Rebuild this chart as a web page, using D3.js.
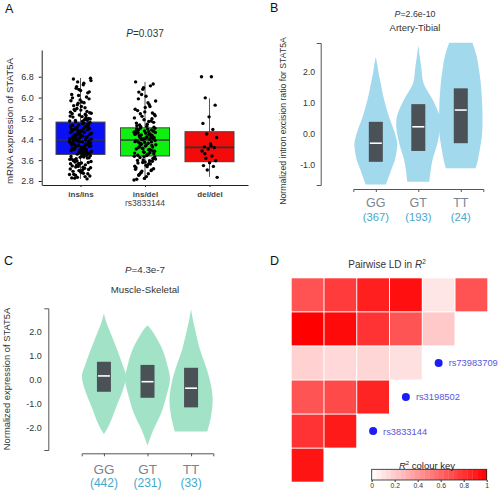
<!DOCTYPE html>
<html><head><meta charset="utf-8">
<script src="https://cdn.jsdelivr.net/npm/d3@7"></script>
<style>body{margin:0;background:#fff}svg{display:block}text{font-family:"Liberation Sans",Arial,sans-serif}</style>
</head><body><svg id="c" width="500" height="494"></svg>
<script>
// ---------------- DATA ----------------
// Panel A
const genotypesA = ["ins/ins", "ins/del", "del/del"];
const exprInsIns = [3.05,3.33,2.91,3.51,3.19,3.64,2.97,3.41,3.77,3.12,3.58,2.88,3.47,3.26,3.72,3.02,3.69,3.15,3.38,3.8,2.94,3.55,3.22,3.61,3.08,3.44,3.74,3.29,3.66,2.99,3.49,3.17,3.79,3.36,3.63,3.1,3.53,3.24,3.71,2.92,3.42,3.57,3.31,3.76,3.06,3.68,3.2,3.46,3.81,3.34,
4.12,3.88,4.27,4.02,4.33,3.93,4.09,4.21,3.84,4.31,3.97,4.15,4.36,3.9,4.05,4.24,3.86,4.18,4.29,3.99,4.11,4.34,3.95,4.07,4.22,3.83,4.14,4.3,4.01,4.19,3.91,4.26,4.04,4.35,3.87,4.1,4.23,3.96,4.16,4.32,3.89,4.06,4.28,4.0,4.2,3.94,4.13,4.25,3.85,4.37,
4.48,4.95,4.66,5.02,4.83,4.57,4.74,4.45,4.89,4.61,4.4,4.52,4.78,4.99,4.69,4.43,4.86,4.55,5.05,4.72,4.5,4.92,4.64,4.41,4.8,4.58,4.97,4.47,4.7,4.38,4.85,4.6,5.0,4.53,4.76,4.44,4.9,4.67,4.42,4.81,4.56,4.94,4.49,4.73,4.63,5.04,4.46,4.87,4.59,4.79,
5.61,6.42,5.18,5.83,6.71,5.47,6.08,5.29,6.55,5.12,5.95,6.27,5.38,5.22,5.72,6.65,5.09,5.54,6.18,5.33,5.88,5.15,6.36,5.42,5.66,5.25,6.02,5.78,5.1,6.49,5.5,5.2,5.91,6.12,5.36,5.58,6.74,5.27,5.69,5.13,6.31,5.44,5.8,5.07,6.22,5.52,5.99,5.31,6.6,5.4];
const exprInsDel = [2.84,3.42,3.05,3.66,2.9,3.31,3.58,3.13,3.72,2.97,3.49,3.22,3.61,3.37,3.08,3.7,3.27,3.53,2.87,3.45,3.18,3.64,3.35,3.02,3.56,3.74,3.25,3.47,3.11,3.68,3.4,3.59,3.2,3.51,3.75,
3.81,4.12,3.95,4.28,4.03,3.88,4.21,4.35,3.78,4.08,4.16,3.92,4.31,4.0,4.24,3.85,4.14,4.33,3.98,4.06,4.19,3.83,4.27,4.1,3.9,4.36,4.01,4.22,3.94,4.17,3.79,4.3,4.05,3.87,4.25,
4.52,4.71,4.43,4.8,4.6,4.39,4.66,4.48,4.77,4.55,4.41,4.69,4.58,4.83,4.46,4.63,4.74,4.5,4.38,4.67,4.79,4.54,4.44,4.72,4.61,4.4,4.57,4.82,4.49,4.65,4.76,4.42,4.59,4.7,4.47,
5.05,5.62,4.92,6.45,5.28,5.87,4.98,6.21,5.41,5.15,6.6,5.73,4.88,5.35,6.05,5.5,5.1,6.32,5.22,5.8,4.95,6.52,5.45,5.02,5.66,6.12,5.3,4.9,5.95,5.19,6.38,5.55,5.08,5.38,4.86];
const exprDelDel = [6.8,6.8,5.99,5.71,5.26,5.01,4.78,4.6,4.47,4.22,4.11,4.08,4.03,3.95,3.76,3.67,3.58,3.5,3.39,3.36,3.22,2.94,4.15,3.85];
const boxQ1A = [3.82, 3.76, 3.54];
const boxMedA = [4.37, 4.37, 4.09];
const boxQ3A = [5.06, 4.84, 4.69];
const whiskLoA = [2.88, 2.84, 2.96];
const whiskHiA = [6.75, 6.6, 5.97];
const ticksA = [2.8, 3.6, 4.4, 5.2, 6.0, 6.8];

// Panels B and C
const genotypesBC = ["GG", "GT", "TT"];
const countsB = [367, 193, 24];
const countsC = [442, 231, 33];
const ticksB = [-1, 0, 1, 2];
const ticksC = [-2, -1, 0, 1, 2];
const q1B = [-0.92, -0.57, -0.32], medB = [-0.32, 0.21, 0.75], q3B = [0.37, 0.94, 1.45];
const q1C = [-0.52, -0.77, -1.17], medC = [0.14, -0.10, -0.37], q3C = [0.73, 0.60, 0.48];
// violin outlines: [value, relative density]
const violinB_GG = [[2.47,0],[2.2,0.07],[2.0,0.11],[1.6,0.22],[1.08,0.37],[0.5,0.6],[0.0,0.85],[-0.32,0.95],[-0.55,0.93],[-0.86,0.85],[-1.07,0.74],[-1.35,0.6],[-1.65,0.45]];
const violinB_GT = [[2.83,0],[2.5,0.06],[2.15,0.13],[1.6,0.24],[1.08,0.64],[0.54,0.95],[0.2,0.98],[-0.32,0.85],[-0.86,0.63],[-1.2,0.55],[-1.56,0.49]];
const violinB_TT = [[2.92,0.52],[2.5,0.7],[2.15,0.79],[1.6,0.89],[0.75,0.96],[0.0,0.95],[-0.55,0.84],[-0.86,0.76],[-1.13,0.66]];
const violinC_GG = [[2.75,0],[2.4,0.1],[1.92,0.3],[1.25,0.58],[0.55,0.85],[0.14,0.98],[-0.43,0.85],[-1.12,0.56],[-1.82,0.27],[-2.1,0.12],[-2.28,0]];
const violinC_GT = [[2.22,0.04],[2.0,0.22],[1.78,0.36],[1.23,0.67],[0.55,0.89],[0.0,1.0],[-0.7,0.84],[-1.38,0.62],[-2.08,0.27],[-2.5,0.1],[-2.76,0]];
const violinC_TT = [[2.92,0],[2.5,0.08],[2.2,0.15],[1.23,0.4],[0.55,0.65],[-0.14,0.86],[-0.83,0.96],[-1.53,0.89],[-1.9,0.8],[-2.18,0.72]];

// Panel D
const ldRows = [
  [0.68, 0.77, 0.88, 0.94, 0.10, 0.68],
  [1.00, 0.96, 0.80, 0.67, 0.21],
  [0.18, 0.15, 0.16, 0.12],
  [0.67, 0.71, 0.86],
  [0.80, 0.90],
  [0.92]
];
const snpNames = ["", "", "rs73983709", "rs3198502", "rs3833144", ""];
const keyTicks = [0, 0.2, 0.4, 0.6, 0.8, 1];

// ---------------- DRAW ----------------
const svg = d3.select("#c");
const fmt1 = d => d.toFixed(1);
const txt = "#333";

function letter(x, y, s) {
  svg.append("text").attr("x", x).attr("y", y).attr("font-size", 12.5).attr("fill", "#111").text(s);
}
function pTitle(g, x, y, size, val) {
  const t = g.append("text").attr("x", x).attr("y", y).attr("text-anchor", "middle").attr("font-size", size).attr("fill", txt);
  t.append("tspan").attr("font-style", "italic").text("P");
  t.append("tspan").text("=" + val);
}

// ===== Panel A =====
letter(5, 13, "A");
const gA = svg.append("g");
const yA = d3.scaleLinear().domain([2.647, 7.824]).range([185, 50]);
const xA = d3.scalePoint().domain(genotypesA).range([42, 248]).padding(0.597);
pTitle(gA, 145, 37, 10, "0.037");

const axYA = gA.append("g").attr("transform", "translate(41.7,0)")
  .call(d3.axisLeft(yA).tickValues(ticksA).tickFormat(fmt1).tickSize(3).tickSizeOuter(0).tickPadding(5));
axYA.selectAll("text").attr("font-size", 9).attr("fill", txt).style("font-family", "Liberation Sans, Arial, sans-serif");
axYA.selectAll("line,path").attr("stroke", "#222");
const axXA = gA.append("g").attr("transform", "translate(0,185)")
  .call(d3.axisBottom(xA).tickSize(2).tickSizeOuter(0).tickPadding(4));
axXA.selectAll("text").attr("font-size", 8).attr("font-weight", "bold").attr("fill", "#444").style("font-family", "Liberation Sans, Arial, sans-serif");
axXA.selectAll("line,path").attr("stroke", "#222");
gA.append("text").attr("x", 145).attr("y", 205.5).attr("text-anchor", "middle").attr("font-size", 8.5).attr("fill", "#444").text("rs3833144");
gA.append("text").attr("transform", "translate(13,121) rotate(-90)").attr("text-anchor", "middle")
  .attr("font-size", 9.7).attr("fill", txt).text("mRNA expression of STAT5A");

const boxColorsA = ["#0a10f5", "#10f010", "#f50a0a"];
const exprA = [exprInsIns, exprInsDel, exprDelDel];
const boxW = 49;
genotypesA.forEach((g, i) => {
  const cx = xA(g);
  gA.append("line").attr("x1", cx).attr("x2", cx).attr("y1", yA(whiskLoA[i])).attr("y2", yA(whiskHiA[i]))
    .attr("stroke", "#555").attr("stroke-width", 1);
  gA.append("rect").attr("x", cx - boxW / 2).attr("width", boxW)
    .attr("y", yA(boxQ3A[i])).attr("height", yA(boxQ1A[i]) - yA(boxQ3A[i]))
    .attr("fill", boxColorsA[i]).attr("stroke", "#444").attr("stroke-width", 1);
  gA.append("line").attr("x1", cx - boxW / 2).attr("x2", cx + boxW / 2).attr("y1", yA(boxMedA[i])).attr("y2", yA(boxMedA[i]))
    .attr("stroke", "#333").attr("stroke-width", 1.6);
});
genotypesA.forEach((g, i) => {
  const cx = xA(g);
  const jw = i === 2 ? 8 : 11;
  gA.append("g").selectAll("circle").data(exprA[i]).join("circle")
    .attr("cx", (d, k) => cx + (((k * 0.6180339887) % 1) - 0.5) * 2 * jw)
    .attr("cy", d => yA(d)).attr("r", 1.7).attr("fill", "#000");
});

// ===== Panels B & C =====
function violinPanel(o) {
  const g = svg.append("g");
  const y = d3.scaleLinear().domain(o.ydom).range(o.yrange);
  const x = d3.scalePoint().domain(genotypesBC).range(o.xrange).padding(o.pad);
  const w = d3.scaleLinear().domain([0, 1]).range([0, 22.5]);
  pTitle(g, o.tx, o.ty1, o.ts, o.p);
  g.append("text").attr("x", o.tx).attr("y", o.ty2).attr("text-anchor", "middle").attr("font-size", o.ts2).attr("fill", txt).text(o.tissue);
  const ay = g.append("g").attr("transform", `translate(${o.ax},0)`)
    .call(d3.axisLeft(y).tickValues(o.ticks).tickFormat(fmt1).tickSizeInner(0).tickSizeOuter(4).tickPadding(o.tpad));
  ay.selectAll("text").attr("font-size", o.tfs).attr("fill", txt).style("font-family", "Liberation Sans, Arial, sans-serif");
  ay.selectAll("path").attr("stroke", "#555");
  const ax = g.append("g").attr("transform", `translate(0,${o.axy})`)
    .call(d3.axisBottom(x).tickSize(3).tickSizeOuter(3).tickFormat(""));
  ax.selectAll("line,path").attr("stroke", "#555");
  const area = d3.area().curve(d3.curveCatmullRom.alpha(0.5));
  genotypesBC.forEach((gt, i) => {
    const cx = x(gt);
    area.y(d => y(d[0])).x0(d => cx - w(d[1])).x1(d => cx + w(d[1]));
    g.append("path").datum(o.violins[i]).attr("d", area).attr("fill", o.fill);
    g.append("rect").attr("x", cx - 7).attr("width", 14).attr("y", y(o.q3[i])).attr("height", y(o.q1[i]) - y(o.q3[i])).attr("fill", "#4a5157");
    g.append("line").attr("x1", cx - 6).attr("x2", cx + 6).attr("y1", y(o.med[i])).attr("y2", y(o.med[i])).attr("stroke", "#fff").attr("stroke-width", 1.6);
    g.append("text").attr("x", cx).attr("y", o.ly1).attr("text-anchor", "middle").attr("font-size", o.lfs).attr("fill", "#7b8390").text(gt);
    g.append("text").attr("x", cx).attr("y", o.ly2).attr("text-anchor", "middle").attr("font-size", o.cfs).attr("fill", "#45a8cc").text("(" + o.counts[i] + ")");
  });
  g.append("text").attr("transform", `translate(${o.ylx},${o.yly}) rotate(-90)`).attr("text-anchor", "middle")
    .attr("font-size", o.ylfs).attr("fill", txt).text(o.ylabel);
}

letter(270, 12, "B");
violinPanel({
  ydom: [-1.668, 2.913], yrange: [185, 43], xrange: [353.3, 483.3], pad: 0.53,
  tx: 415, ty1: 16.5, ty2: 31, ts: 8.8, ts2: 9.5, p: "2.6e-10", tissue: "Artery-Tibial",
  ax: 320.7, ticks: ticksB, tpad: 5.5, tfs: 8.7, axy: 189,
  violins: [violinB_GG, violinB_GT, violinB_TT], fill: "#a3d9ec",
  q1: q1B, med: medB, q3: q3B, counts: countsB,
  ly1: 206.7, ly2: 220.5, lfs: 12.5, cfs: 11.2,
  ylx: 286, yly: 121, ylfs: 8.7, ylabel: "Normalized intron excision ratio for STAT5A"
});

letter(4, 265, "C");
violinPanel({
  ydom: [-2.946, 2.958], yrange: [450, 308.3], xrange: [81.7, 213.3], pad: 0.51,
  tx: 145, ty1: 273, ty2: 293, ts: 9.8, ts2: 9.7, p: "4.3e-7", tissue: "Muscle-Skeletal",
  ax: 48.3, ticks: ticksC, tpad: 6.5, tfs: 9, axy: 453.3,
  violins: [violinC_GG, violinC_GT, violinC_TT], fill: "#a2e3c8",
  q1: q1C, med: medC, q3: q3C, counts: countsC,
  ly1: 474, ly2: 486.5, lfs: 13.5, cfs: 12,
  ylx: 10, yly: 379, ylfs: 9.4, ylabel: "Normalized expression of STAT5A"
});

// ===== Panel D =====
letter(270, 265, "D");
const gD = svg.append("g");
{
  const t = gD.append("text").attr("x", 387).attr("y", 268).attr("text-anchor", "middle").attr("font-size", 10).attr("fill", txt);
  t.append("tspan").text("Pairwise LD in ");
  t.append("tspan").attr("font-style", "italic").text("R");
  t.append("tspan").attr("font-size", 6.5).attr("dy", -4).text("2");
}
const nD = ldRows.length;
const colX = d3.scaleBand().domain(d3.range(nD)).range([291.7, 487.3]).paddingInner(0.03);
const rowY = d3.scaleBand().domain(d3.range(nD)).range([278.3, 481.7]).paddingInner(0.03);
const ldColor = d3.scaleLinear().domain([0, 1]).range(["#ffffff", "#ff0000"]);
ldRows.forEach((row, r) => {
  gD.append("g").selectAll("rect").data(row).join("rect")
    .attr("x", (d, c) => colX(c)).attr("y", rowY(r))
    .attr("width", colX.bandwidth()).attr("height", rowY.bandwidth())
    .attr("fill", d => ldColor(d));
});
const defs = svg.append("defs");
defs.append("filter").attr("id", "blur").append("feGaussianBlur").attr("stdDeviation", 0.6);
snpNames.forEach((nm, r) => {
  if (!nm) return;
  const c = ldRows[r].length;
  const cx = colX(c) + colX.bandwidth() / 2;
  const cy = rowY(r) + rowY.bandwidth() / 2;
  gD.append("circle").attr("cx", cx).attr("cy", cy).attr("r", 4).attr("fill", "#1c1cf5").attr("filter", "url(#blur)");
  gD.append("text").attr("x", cx + 10).attr("y", cy + 3.4).attr("font-size", 9.3).attr("fill", "#5a55dd").text(nm);
});
// colour key
const kx = d3.scaleLinear().domain([0, 1]).range([371.7, 486.7]);
const steps = d3.range(0, 1, 1 / 24);
gD.append("g").selectAll("rect").data(steps).join("rect")
  .attr("x", d => kx(d)).attr("width", kx(1 / 24) - kx(0) + 0.3)
  .attr("y", 469.3).attr("height", 10.7).attr("fill", d => ldColor(d + 1 / 48));
gD.append("rect").attr("x", kx(0)).attr("y", 469.3).attr("width", kx(1) - kx(0)).attr("height", 10.7)
  .attr("fill", "none").attr("stroke", "#222").attr("stroke-width", 0.8);
const kax = gD.append("g").attr("transform", "translate(0,480)")
  .call(d3.axisBottom(kx).tickValues(keyTicks).tickFormat(d => d === 0 || d === 1 ? String(d) : d.toFixed(1)).tickSize(2).tickPadding(1.5));
kax.select(".domain").remove();
kax.selectAll("line").attr("stroke", "#333");
kax.selectAll("text").attr("font-size", 6.8).attr("fill", txt).style("font-family", "Liberation Sans, Arial, sans-serif");
{
  const t = gD.append("text").attr("x", 427).attr("y", 468.8).attr("text-anchor", "middle").attr("font-size", 9.5).attr("fill", "#222");
  t.append("tspan").attr("font-style", "italic").text("R");
  t.append("tspan").attr("font-size", 6).attr("dy", -3.5).text("2");
  t.append("tspan").attr("dy", 3.5).text(" colour key");
}
</script></body></html>
